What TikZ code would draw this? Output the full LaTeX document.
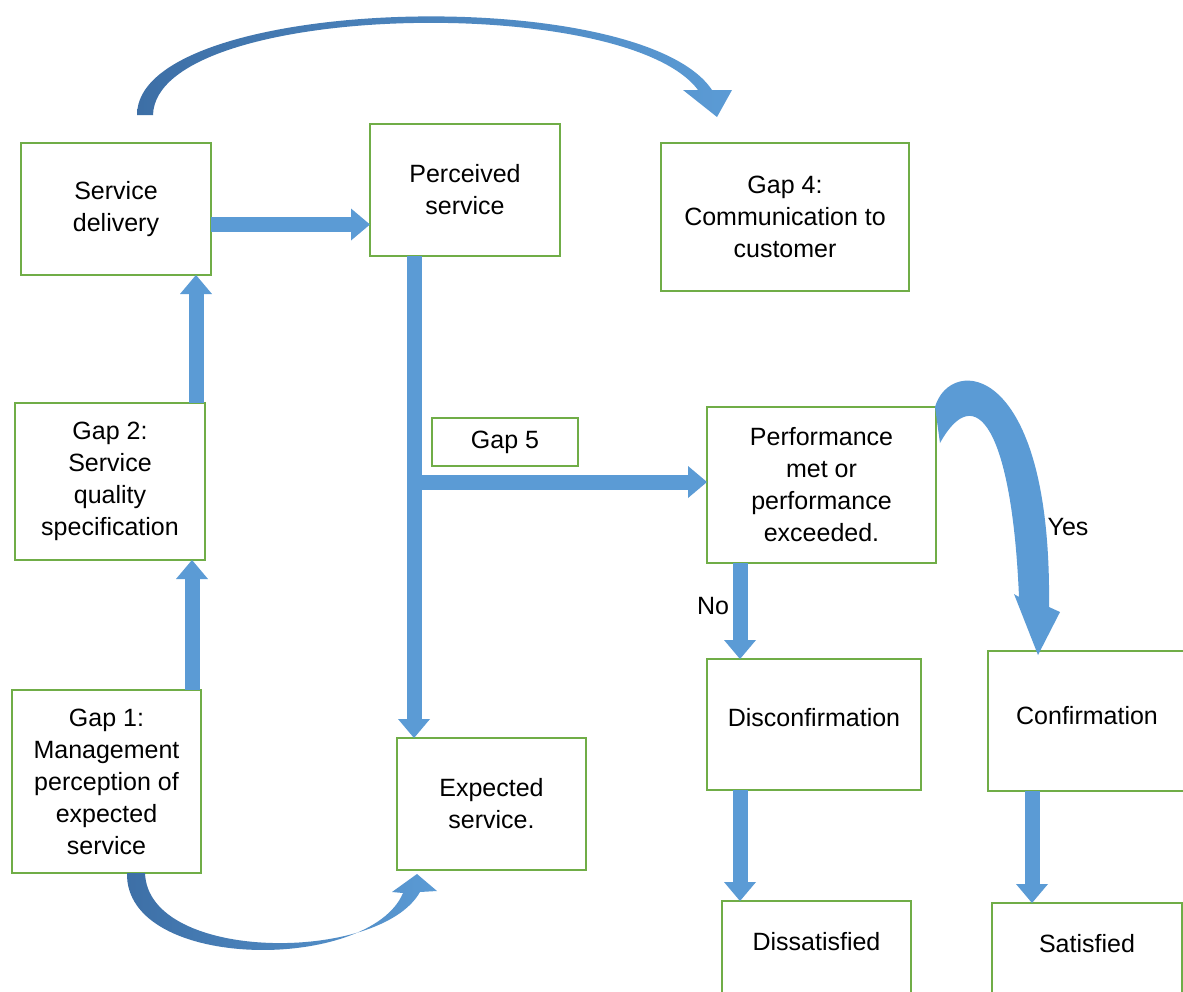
\documentclass[tikz,border=0pt]{standalone}
\usepackage{fontspec}
\setmainfont{Liberation Sans}
\usetikzlibrary{arrows.meta,calc}

\definecolor{boxgreen}{HTML}{70AD47}
\definecolor{flowblue}{HTML}{5B9BD5}
\definecolor{flowdark}{HTML}{41719C}
\definecolor{arcdark}{HTML}{3D6FA6}

\tikzset{
  box/.style={draw=boxgreen, line width=1.8pt, inner sep=0pt, outer sep=0pt,
    align=center, font=\fontsize{25}{32}\selectfont},
  flow/.style={draw=flowblue, line width=15pt,
    -{Triangle[length=19pt 0 0, width=32pt 0, line width=0pt]}},
  lbl/.style={inner sep=0pt, font=\fontsize{25}{32}\selectfont},
}

\begin{document}
\begin{tikzpicture}[x=1pt, y=-1pt]
\useasboundingbox (0,0) rectangle (1183,991);
\clip (0,0) rectangle (1183,991);
\fill[white] (0,0) rectangle (1183,991);

% boxes
\node[box, minimum width=190pt, minimum height=132pt] (sd) at (116,209) {Service\\delivery};
\node[box, minimum width=190pt, minimum height=132pt] (ps) at (465,190) {Perceived\\service};
\node[box, minimum width=248pt, minimum height=148pt] (g4) at (785,217) {Gap 4:\\Communication to\\customer};
\node[box, minimum width=190pt, minimum height=157pt] (g2) at (110,481.5) {Gap 2:\\Service\\quality\\specification};
\node[box, minimum width=146pt, minimum height=48pt] (g5) at (505,442) {Gap 5};
\node[box, minimum width=229pt, minimum height=156pt] (pf) at (821.5,485) {Performance\\met or\\performance\\exceeded.};
\node[box, minimum width=189pt, minimum height=183pt] (g1) at (106.5,781.5) {Gap 1:\\Management\\perception of\\expected\\service};
\node[box, minimum width=189pt, minimum height=132pt] (es) at (491.5,804) {Expected\\service.};
\node[box, minimum width=214pt, text height=67pt, text depth=64pt, anchor=north] (dc) at (814,659) {Disconfirmation};
\node[box, minimum width=198pt, text height=73pt, text depth=67pt, anchor=north] (cf) at (1087,651) {Confirmation};
\node[box, minimum width=189pt, text height=49pt, text depth=83pt, anchor=north] (ds) at (816.5,901) {Dissatisfied};
\node[box, minimum width=190pt, text height=49pt, text depth=83pt, anchor=north] (sa) at (1087,903) {Satisfied};

% straight connectors
\draw[flow] ([yshift=-15.5pt]sd.east) -- ([yshift=-15.5pt]sd.east -| ps.west);
\draw[flow] ([xshift=86pt]g2.north) -- ([xshift=86pt]g2.north |- sd.south);
\draw[flow] ([xshift=85.5pt]g1.north) -- ([xshift=85.5pt]g1.north |- g2.south);
\draw[flow] ([xshift=-51pt]ps.south) -- ([xshift=-51pt]ps.south |- es.north);
\coordinate (split) at (407,482);
\draw[flow] (split) -- (split -| pf.west);
\draw[flow] ([xshift=-81.5pt]pf.south) -- ([xshift=-81.5pt]pf.south |- dc.north);
\draw[flow] ([xshift=-74pt]dc.south) -- ([xshift=-74pt]dc.south |- ds.north);
\draw[flow] ([xshift=-55pt]cf.south) -- ([xshift=-55pt]cf.south |- sa.north);

% curved arrow over the top
\shade[left color=arcdark, right color=flowblue]
  (137,115) .. controls (137,-5) and (640,-18) .. (712,90)
  -- (732,90) -- (717,117) -- (683,90) -- (698,90)
  .. controls (625,-8) and (156,2) .. (153,115) -- cycle;

% curved arrow along the bottom
\shade[left color=arcdark, right color=flowblue]
  (127,873) .. controls (125,972) and (370,972) .. (403,893)
  -- (392,892) -- (417,874) -- (437,891) -- (420,892)
  .. controls (380,963) and (148,963) .. (145,873) -- cycle;

% "Yes" arrow
\fill[flowblue]
  (935,407) .. controls (950,355) and (1052,360) .. (1049,607)
  -- (1060,612) -- (1038,655) -- (1014,594) -- (1019,597)
  .. controls (1012,430) and (976,378) .. (940,443) -- cycle;

% branch labels
\node[lbl] (yes) at (1068,527) {Yes};
\node[lbl] (no) at (713,606) {No};
\end{tikzpicture}
\end{document}
